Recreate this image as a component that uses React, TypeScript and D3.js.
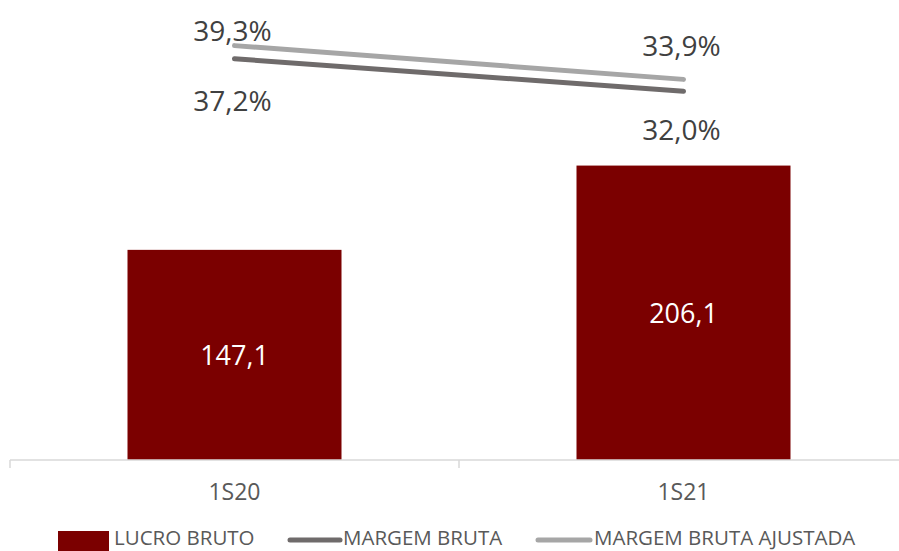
import React from "react";
import * as d3 from "d3";

const categories = ["1S20", "1S21"];
const lucroBruto = [147.1, 206.1];
const margemBruta = [37.2, 32.0];
const margemAjustada = [39.3, 33.9];
const legendLabels = ["LUCRO BRUTO", "MARGEM BRUTA", "MARGEM BRUTA AJUSTADA"];

// label offsets from the line point (Excel moved them by hand)
const ajustadaLabelDy = [-5, -23];
const brutaLabelDy = [52, 49];

const WIDTH = 899;
const HEIGHT = 551;
const FONT = "'Open Sans', 'Noto Sans', sans-serif";
const fmt = (v: number) => v.toFixed(1).replace(".", ",");

const App = () => {
  const x = d3.scaleBand().domain(categories).range([10, 908]).paddingInner(0).paddingOuter(0);
  const y = d3.scaleLinear().domain([0, 315]).range([460, 10]);
  const y2 = d3.scaleLinear().domain([-27, 45]).range([460, 10]);
  const barW = 214;
  const cx = (c: string) => (x(c) as number) + x.bandwidth() / 2;

  const line = d3
    .line<number>()
    .x((d, i) => cx(categories[i]))
    .y((d) => y2(d));

  return (
    <svg
      width={WIDTH}
      height={HEIGHT}
      style={{ position: "absolute", left: 0, top: 0, background: "#fff" }}
      fontFamily={FONT}
    >
      {/* bars */}
      {lucroBruto.map((v, i) => (
        <g key={categories[i]}>
          <rect
            x={cx(categories[i]) - barW / 2}
            y={y(v)}
            width={barW}
            height={y(0) - y(v)}
            fill="#7b0000"
          />
          <text
            x={cx(categories[i])}
            y={(y(v) + y(0)) / 2}
            dy="0.36em"
            textAnchor="middle"
            fill="#fff"
            fontSize={27}
          >
            {fmt(v)}
          </text>
        </g>
      ))}

      {/* axis */}
      <line x1={10} x2={908} y1={y(0)} y2={y(0)} stroke="#d9d9d9" strokeWidth={1.5} />
      {[10, 459, 908].map((t) => (
        <line key={t} x1={t} x2={t} y1={y(0)} y2={y(0) + 8} stroke="#d9d9d9" strokeWidth={1.5} />
      ))}
      {categories.map((c) => (
        <text key={c} x={cx(c)} y={492} dy="0.36em" textAnchor="middle" fill="#595959" fontSize={23}>
          {c}
        </text>
      ))}

      {/* lines */}
      <path d={line(margemAjustada) as string} fill="none" stroke="#a6a6a6" strokeWidth={5} strokeLinecap="round" />
      <path d={line(margemBruta) as string} fill="none" stroke="#6f6b6b" strokeWidth={5} strokeLinecap="round" />
      {margemAjustada.map((v, i) => (
        <text key={"a" + i} x={cx(categories[i]) - 2} y={y2(v) + ajustadaLabelDy[i]} textAnchor="middle" fill="#404040" fontSize={28}>
          {fmt(v)}%
        </text>
      ))}
      {margemBruta.map((v, i) => (
        <text key={"b" + i} x={cx(categories[i]) - 2} y={y2(v) + brutaLabelDy[i]} textAnchor="middle" fill="#404040" fontSize={28}>
          {fmt(v)}%
        </text>
      ))}

      {/* legend */}
      <rect x={58} y={531} width={51} height={20} fill="#7b0000" />
      <text x={114} y={545} fill="#595959" fontSize={20.5}>{legendLabels[0]}</text>
      <line x1={290} x2={340} y1={540} y2={540} stroke="#6f6b6b" strokeWidth={5} strokeLinecap="round" />
      <text x={343} y={545} fill="#595959" fontSize={20.5}>{legendLabels[1]}</text>
      <line x1={538} x2={590} y1={540} y2={540} stroke="#a6a6a6" strokeWidth={5} strokeLinecap="round" />
      <text x={594} y={545} fill="#595959" fontSize={20.5}>{legendLabels[2]}</text>
    </svg>
  );
};

export default App;
